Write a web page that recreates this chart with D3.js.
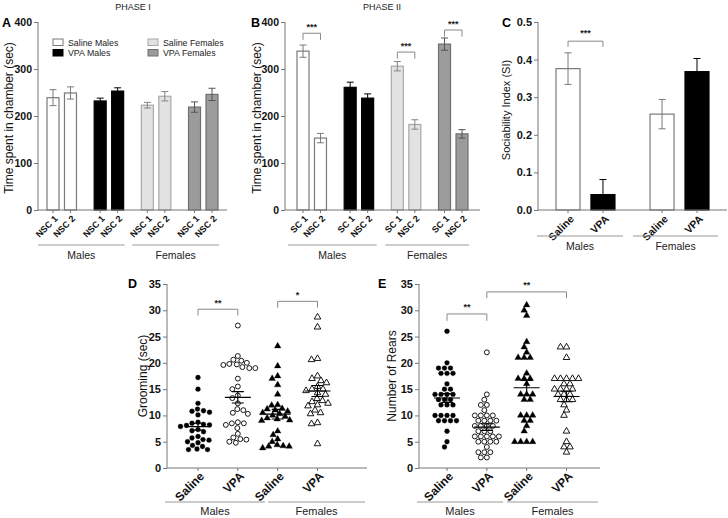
<!DOCTYPE html>
<html><head><meta charset="utf-8">
<script src="https://cdn.jsdelivr.net/npm/d3@7"></script>
<style>body{margin:0;background:#fff}svg{font-family:"Liberation Sans",Arial,Helvetica,sans-serif}</style>
</head><body><svg id="c" width="728" height="518"></svg>
<script>
// ---------- data ----------
const groups = ["Saline Males", "VPA Males", "Saline Females", "VPA Females"];
const sexes = ["Males", "Females"];
const phase1Labels = ["NSC 1", "NSC 2"];
const phase2Labels = ["SC 1", "NSC 2"];
const phase1Mean = [[239, 249], [232, 253], [223, 242], [219, 246]];
const phase1Sem  = [[17, 13], [6, 7], [6, 10], [11, 13]];
const phase2Mean = [[338, 153], [261, 238], [306, 182], [353, 162]];
const phase2Sem  = [[13, 10], [11, 9], [10, 10], [13, 9]];
const treatLabels = ["Saline", "VPA"];
const siMean = [0.376, 0.041, 0.255, 0.368];
const siSem  = [0.042, 0.040, 0.039, 0.035];
const timeTicks = [0, 100, 200, 300, 400];
const siTicks = [0, 0.1, 0.2, 0.3, 0.4, 0.5];
const countTicks = [0, 5, 10, 15, 20, 25, 30, 35];

const groomSalM = [17.2, 15.0, 12.3, 11.2, 10.9, 10.8, 10.6, 10.1, 8.7, 8.5, 8.3, 8.2, 8.1, 7.9, 7.3, 7.1, 6.9, 6.0, 5.7, 5.4, 5.3, 5.0, 4.8, 4.3, 4.1, 3.6, 3.5, 3.5];
const groomVpaM = [27.1, 21.3, 20.6, 20.4, 20.0, 19.8, 19.7, 19.6, 19.2, 19.0, 19.0, 17.0, 15.5, 15.0, 13.8, 13.3, 12.3, 11.2, 11.0, 10.5, 10.3, 8.7, 8.5, 8.5, 8.2, 7.6, 6.5, 5.8, 5.5, 5.4, 5.0, 4.8];
const groomSalF = [23.2, 19.4, 17.5, 17.0, 15.8, 14.0, 12.0, 11.9, 11.3, 11.2, 11.0, 10.8, 10.5, 10.3, 10.0, 9.8, 9.5, 9.3, 9.1, 9.0, 7.0, 6.3, 5.5, 5.0, 4.4, 4.2, 4.1, 4.1, 3.8];
const groomVpaF = [28.7, 26.8, 20.8, 20.6, 17.5, 17.0, 16.6, 16.2, 15.5, 15.0, 15.0, 14.7, 14.3, 14.0, 13.2, 12.8, 12.6, 12.3, 12.0, 11.8, 11.0, 10.5, 10.3, 8.6, 8.4, 4.6];

const rearSalM = [26, 20, 19, 19, 19, 18, 18, 18, 16, 15, 15, 14, 14, 14, 14, 13, 13, 13, 12, 12, 12, 10, 10, 10, 10, 9, 9, 9, 9, 7, 5, 4];
const rearVpaM = [22, 14, 13, 12, 12, 11, 10, 10, 10, 10, 9, 9, 9, 9, 8, 8, 8, 8, 7, 7, 7, 6, 6, 6, 6, 6, 5, 5, 5, 5, 4, 3, 3, 3, 2, 2];
const rearSalF = [31, 30, 29, 24, 23, 22, 21, 21, 21, 18, 17, 17, 17, 16, 14, 14, 14, 13, 13, 10, 10, 10, 9, 9, 8, 7, 5, 5, 5, 5];
const rearVpaF = [23, 23, 21, 17, 17, 17, 17, 17, 16, 16, 15, 15, 15, 15, 14, 14, 14, 13, 13, 13, 12, 11, 10, 7, 5, 4, 4, 3];

// ---------- styles ----------
const fills   = ["#ffffff", "#000000", "#e2e2e2", "#9b9b9b"];
const strokes = ["#7a7a7a", "#000000", "#a8a8a8", "#707070"];
const errCols = ["#7a7a7a", "#000000", "#858585", "#555555"];
const axisCol = "#777";
const svg = d3.select("#c");

function yAxis(scale, x, ticks, fmt, fs) {
  const g = svg.append("g").attr("transform", `translate(${x},0)`)
    .call(d3.axisLeft(scale).tickValues(ticks).tickFormat(fmt).tickSize(4).tickSizeOuter(0).tickPadding(2));
  g.selectAll("path,line").attr("stroke", axisCol);
  g.selectAll("text").attr("font-weight", "bold").attr("font-size", fs).attr("fill", "#111");
  g.select(".domain").attr("d", `M0,${scale.range()[0]}V${scale.range()[1]}`);
  return g;
}
function xBase(x0, x1, y, tickXs, labels, fs, off) {
  svg.append("line").attr("x1", x0).attr("x2", x1).attr("y1", y).attr("y2", y).attr("stroke", axisCol);
  tickXs.forEach((tx, i) => {
    svg.append("line").attr("x1", tx).attr("x2", tx).attr("y1", y).attr("y2", y + 3).attr("stroke", axisCol);
    svg.append("text").attr("transform", `translate(${tx + off[0]},${y + off[1]}) rotate(-45)`)
      .attr("text-anchor", "end").attr("dy", "0.35em").attr("font-weight", "bold")
      .attr("font-size", fs).attr("fill", "#111").text(labels[i]);
  });
}
function groupLine(x0, x1, y, label, ty, fs) {
  svg.append("line").attr("x1", x0).attr("x2", x1).attr("y1", y).attr("y2", y).attr("stroke", "#999").attr("stroke-width", 1.2);
  svg.append("text").attr("x", (x0 + x1) / 2).attr("y", ty).attr("text-anchor", "middle")
    .attr("font-size", fs).attr("fill", "#222").text(label);
}
function yTitle(x, y, text, fs) {
  svg.append("text").attr("transform", `translate(${x},${y}) rotate(-90)`).attr("text-anchor", "middle")
    .attr("font-size", fs).attr("fill", "#111").text(text);
}
function letter(x, y, t) {
  svg.append("text").attr("x", x).attr("y", y).attr("font-weight", "bold").attr("font-size", 12.5).text(t);
}
function bracket(xa, xb, yTop, yLow, stars, sy) {
  svg.append("path").attr("d", `M${xa},${yLow}V${yTop}H${xb}V${yLow}`).attr("fill", "none").attr("stroke", "#888");
  svg.append("text").attr("x", (xa + xb) / 2).attr("y", sy).attr("text-anchor", "middle")
    .attr("font-size", 9).attr("font-weight", "bold").attr("fill", "#222").text(stars);
}
function bar(x, w, y, v, e, gi) {
  svg.append("rect").attr("x", x - w / 2).attr("y", y(v)).attr("width", w).attr("height", y(0) - y(v))
    .attr("fill", fills[gi]).attr("stroke", strokes[gi]).attr("stroke-width", 1.2);
  const c = errCols[gi], cw = 3.5;
  svg.append("path").attr("d", `M${x},${y(v - e)}V${y(v + e)}M${x - cw},${y(v + e)}H${x + cw}M${x - cw},${y(v - e)}H${x + cw}`)
    .attr("stroke", c).attr("fill", "none");
}

// ---------- Panels A & B ----------
const yT = d3.scaleLinear().domain([0, 400]).range([210, 22]);
const unit = (g, b) => g * 2.7 + b;
function phasePanel(ax, firstBar, axisEnd, means, sems, labels) {
  const xs = d3.scaleLinear().domain([0, unit(3, 1)]).range([firstBar, firstBar + 159]);
  yAxis(yT, ax, timeTicks, d3.format("d"), 10.5);
  const tx = [], tl = [];
  means.forEach((pair, g) => pair.forEach((v, b) => {
    const x = xs(unit(g, b));
    bar(x, 12, yT, v, sems[g][b], g);
    tx.push(x); tl.push(labels[b]);
  }));
  xBase(ax, axisEnd, 210, tx, tl, 9, [3, 7]);
  return xs;
}
const xA = phasePanel(38, 53, 227, phase1Mean, phase1Sem, phase1Labels);
groupLine(xA(unit(0, 0)) - 15, xA(unit(1, 1)) + 7, 245, sexes[0], 259, 10.5);
groupLine(xA(unit(2, 0)) - 15, xA(unit(3, 1)) + 7, 245, sexes[1], 259, 10.5);
yTitle(13, 118, "Time spent in chamber  (sec)", 12);
letter(2, 27, "A");
svg.append("text").attr("x", 133).attr("y", 10).attr("text-anchor", "middle").attr("font-size", 9).attr("fill", "#222").text("PHASE I");

// legend
groups.forEach((gname, i) => {
  const col = i < 2 ? 0 : 1, row = i % 2;
  const bx = col === 0 ? 53 : 148, by = 39 + row * 10.5;
  svg.append("rect").attr("x", bx).attr("y", by).attr("width", 10).attr("height", 6.5)
    .attr("fill", fills[i]).attr("stroke", strokes[i]);
  svg.append("text").attr("x", bx + 15).attr("y", by + 6.5).attr("font-size", 8.8).attr("fill", "#222").text(gname);
});

const xB = phasePanel(285, 303, 480, phase2Mean, phase2Sem, phase2Labels);
groupLine(xB(unit(0, 0)) - 15, xB(unit(1, 1)) + 9, 245, sexes[0], 259, 10.5);
groupLine(xB(unit(2, 0)) - 12, xB(unit(3, 1)) + 7, 245, sexes[1], 259, 10.5);
yTitle(261, 118, "Time spent in chamber  (sec)", 12);
letter(251, 27, "B");
svg.append("text").attr("x", 382).attr("y", 10).attr("text-anchor", "middle").attr("font-size", 9).attr("fill", "#222").text("PHASE II");
bracket(xB(unit(0, 0)), xB(unit(0, 1)), yT(376), yT(362), "***", yT(382));
bracket(xB(unit(2, 0)), xB(unit(2, 1)), yT(336), yT(322), "***", yT(342));
bracket(xB(unit(3, 0)), xB(unit(3, 1)), yT(383), yT(369), "***", yT(389));

// ---------- Panel C ----------
const yS = d3.scaleLinear().domain([0, 0.5]).range([210, 22]);
const uC = (g, b) => g * 2.69 + b;
const xC = d3.scaleLinear().domain([0, uC(1, 1)]).range([568, 697]);
yAxis(yS, 538, siTicks, d3.format(".1f"), 11);
const cx = [], cl = [];
siMean.forEach((v, i) => {
  const g = Math.floor(i / 2), b = i % 2;
  const x = xC(uC(g, b));
  bar(x, 24, yS, v, siSem[i], b === 0 ? 0 : 1);
  cx.push(x); cl.push(treatLabels[b]);
});
xBase(538, 727, 210, cx, cl, 10.5, [4, 7]);
groupLine(xC(uC(0, 0)) - 31, xC(uC(0, 1)) + 20, 236, sexes[0], 250, 10.5);
groupLine(xC(uC(1, 0)) - 29, xC(uC(1, 1)) + 21, 236, sexes[1], 250, 10.5);
yTitle(510, 110, "Sociability Index (SI)", 11);
letter(502, 27, "C");
bracket(xC(uC(0, 0)), xC(uC(0, 1)), yS(0.449), yS(0.434), "***", yS(0.462));

// ---------- scatter helpers ----------
function swarm(values, cx, y, r) {
  const placed = [];
  const pts = values.map(v => ({ v })).sort((a, b) => b.v - a.v);
  for (const p of pts) {
    p.y = y(p.v);
    for (let k = 0; k < 400; k++) {
      const off = (k % 2 === 0 ? 1 : -1) * Math.ceil(k / 2) * 0.5;
      const px = cx + off;
      if (placed.every(q => (q.x - px) ** 2 + (q.y - p.y) ** 2 >= (2 * r) ** 2)) { p.x = px; break; }
    }
    placed.push(p);
  }
  return placed;
}
function scatterGroup(values, cx, y, shape, filled) {
  const pts = swarm(values, cx, y, 2.9);
  const sym = d3.symbol().type(shape === "circle" ? d3.symbolCircle : d3.symbolTriangle).size(19);
  svg.append("g").selectAll("path").data(pts).join("path")
    .attr("transform", d => `translate(${d.x},${d.y})`)
    .attr("d", sym())
    .attr("fill", filled ? "#000" : "#fff")
    .attr("stroke", "#000").attr("stroke-width", filled ? 0.3 : 0.9);
  const m = d3.mean(values), se = d3.deviation(values) / Math.sqrt(values.length);
  svg.append("path").attr("d",
    `M${cx - 13},${y(m)}H${cx + 13}M${cx},${y(m - se)}V${y(m + se)}M${cx - 6},${y(m + se)}H${cx + 6}M${cx - 6},${y(m - se)}H${cx + 6}`)
    .attr("stroke", "#000").attr("stroke-width", 1.1).attr("fill", "none");
}
const yN = d3.scaleLinear().domain([0, 35]).range([468, 284]);
const shapes = ["circle", "circle", "triangle", "triangle"];
const filledArr = [true, false, true, false];

function scatterPanel(ax, first, axisEnd, sets, title, titleX, lineOff) {
  const xs = d3.scaleLinear().domain([0, 3]).range([first, first + 119.5]);
  yAxis(yN, ax, countTicks, d3.format("d"), 11);
  sets.forEach((vals, i) => scatterGroup(vals, xs(i), yN, shapes[i], filledArr[i]));
  xBase(ax, axisEnd, 468, [0, 1, 2, 3].map(xs), [0, 1, 2, 3].map(i => treatLabels[i % 2]), 12, [4, 6]);
  groupLine(ax - 2, lineOff[0], 502, sexes[0], 515, 11);
  groupLine(lineOff[1], axisEnd - 2, 502, sexes[1], 515, 11);
  yTitle(titleX, 376, title, 12);
  return xs;
}
const xD = scatterPanel(167, 198, 367, [groomSalM, groomVpaM, groomSalF, groomVpaF], "Grooming (sec)", 147, [265, 268]);
letter(128, 288, "D");
bracket(xD(0), xD(1), yN(30.2), yN(29), "**", yN(30.9));
bracket(xD(2), xD(3), yN(31.7), yN(30.5), "*", yN(32.4));

const xE = scatterPanel(419, 447, 600, [rearSalM, rearVpaM, rearSalF, rearVpaF], "Number of Rears", 396, [503, 507]);
letter(378, 288, "E");
bracket(xE(0), xE(1), yN(29.3), yN(28), "**", yN(30.1));
bracket(xE(1), xE(3), yN(33.5), yN(32.3), "**", yN(34.2));
</script></body></html>
